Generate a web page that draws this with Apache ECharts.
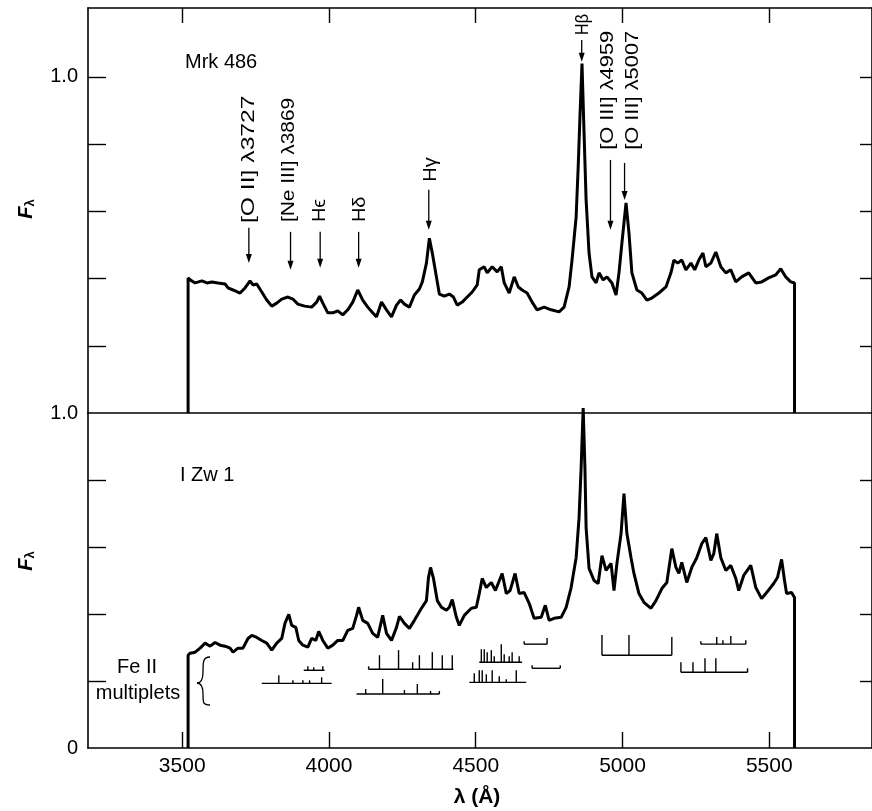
<!DOCTYPE html>
<html><head><meta charset="utf-8">
<script src="https://cdn.jsdelivr.net/npm/echarts@6/dist/echarts.min.js"></script>
<style>html,body{margin:0;padding:0;background:#fff}#c{width:872px;height:811px}</style>
</head><body><div id="c"></div><script>
// ---- data ----
const xTicks = [3500, 4000, 4500, 5000, 5500];
const topYTicks = [0.2, 0.4, 0.6, 0.8, 1.0];
const bottomYTicks = [0.2, 0.4, 0.6, 0.8];

// Mrk 486 spectrum [wavelength (Å), F_lambda]
const topSpectrum = [
[3520,0],[3520,0.402],[3527,0.396],[3544,0.387],[3567,0.393],[3584,0.387],[3601,0.390],[3622,0.387],[3646,0.384],[3656,0.372],[3673,0.366],[3697,0.357],[3714,0.372],[3731,0.393],[3741,0.381],[3754,0.384],[3771,0.360],[3788,0.336],[3805,0.318],[3822,0.327],[3839,0.339],[3860,0.345],[3877,0.339],[3894,0.324],[3917,0.318],[3941,0.315],[3958,0.330],[3968,0.348],[3979,0.327],[3996,0.298],[4013,0.298],[4030,0.304],[4047,0.292],[4064,0.307],[4081,0.330],[4098,0.366],[4115,0.336],[4132,0.315],[4149,0.298],[4162,0.286],[4179,0.330],[4196,0.307],[4213,0.286],[4230,0.321],[4244,0.336],[4257,0.324],[4274,0.315],[4291,0.351],[4308,0.369],[4318,0.390],[4332,0.446],[4342,0.520],[4352,0.476],[4366,0.405],[4376,0.354],[4393,0.348],[4410,0.354],[4424,0.345],[4437,0.321],[4454,0.330],[4471,0.345],[4488,0.360],[4505,0.381],[4512,0.426],[4529,0.435],[4539,0.417],[4556,0.435],[4573,0.420],[4587,0.435],[4597,0.387],[4614,0.357],[4631,0.405],[4645,0.375],[4658,0.366],[4675,0.357],[4692,0.330],[4709,0.307],[4733,0.315],[4757,0.307],[4784,0.301],[4801,0.315],[4818,0.375],[4828,0.455],[4842,0.583],[4849,0.732],[4855,0.881],[4862,1.040],[4869,0.833],[4876,0.634],[4886,0.476],[4896,0.405],[4910,0.387],[4920,0.417],[4934,0.396],[4947,0.405],[4964,0.387],[4978,0.351],[4988,0.417],[4998,0.506],[5012,0.625],[5022,0.536],[5032,0.417],[5049,0.366],[5066,0.357],[5083,0.336],[5100,0.342],[5124,0.357],[5148,0.375],[5165,0.417],[5175,0.455],[5188,0.446],[5202,0.455],[5216,0.426],[5233,0.446],[5246,0.426],[5260,0.455],[5274,0.476],[5284,0.435],[5301,0.446],[5318,0.479],[5335,0.435],[5352,0.417],[5369,0.426],[5386,0.390],[5406,0.405],[5430,0.417],[5454,0.387],[5474,0.390],[5498,0.402],[5522,0.411],[5539,0.429],[5556,0.405],[5573,0.390],[5586,0.387],[5586,0]
];

// I Zw 1 spectrum [wavelength (Å), F_lambda]
const bottomSpectrum = [
[3520,0],[3520,0.277],[3527,0.283],[3544,0.286],[3561,0.298],[3578,0.313],[3595,0.304],[3612,0.315],[3629,0.307],[3646,0.304],[3663,0.298],[3673,0.286],[3690,0.298],[3707,0.298],[3724,0.327],[3737,0.336],[3754,0.330],[3771,0.321],[3788,0.313],[3805,0.292],[3822,0.313],[3839,0.327],[3850,0.372],[3863,0.399],[3873,0.366],[3887,0.360],[3897,0.321],[3911,0.307],[3928,0.301],[3941,0.327],[3955,0.321],[3965,0.348],[3979,0.321],[3996,0.298],[4013,0.307],[4030,0.321],[4047,0.321],[4064,0.351],[4081,0.357],[4094,0.396],[4101,0.420],[4115,0.381],[4132,0.372],[4149,0.342],[4166,0.330],[4183,0.396],[4196,0.342],[4213,0.321],[4230,0.360],[4240,0.393],[4257,0.372],[4274,0.357],[4291,0.381],[4315,0.417],[4332,0.440],[4339,0.509],[4346,0.539],[4356,0.506],[4369,0.440],[4383,0.420],[4400,0.411],[4410,0.420],[4420,0.443],[4434,0.390],[4444,0.366],[4461,0.396],[4485,0.417],[4502,0.420],[4512,0.461],[4522,0.506],[4536,0.479],[4553,0.494],[4567,0.470],[4590,0.521],[4604,0.461],[4617,0.470],[4634,0.521],[4648,0.461],[4665,0.464],[4682,0.432],[4699,0.387],[4723,0.390],[4737,0.426],[4750,0.381],[4767,0.387],[4791,0.390],[4808,0.420],[4825,0.479],[4842,0.568],[4852,0.688],[4859,0.836],[4866,1.015],[4872,0.836],[4876,0.658],[4886,0.536],[4903,0.500],[4917,0.491],[4930,0.574],[4944,0.530],[4961,0.551],[4971,0.470],[4981,0.551],[4995,0.640],[5005,0.759],[5015,0.640],[5029,0.568],[5039,0.521],[5056,0.461],[5073,0.435],[5097,0.417],[5114,0.440],[5134,0.476],[5151,0.494],[5168,0.595],[5182,0.539],[5192,0.521],[5202,0.554],[5219,0.494],[5236,0.539],[5253,0.568],[5270,0.610],[5284,0.628],[5301,0.560],[5311,0.580],[5321,0.640],[5335,0.568],[5352,0.530],[5369,0.545],[5386,0.506],[5396,0.470],[5413,0.515],[5437,0.545],[5454,0.479],[5474,0.446],[5491,0.464],[5515,0.491],[5528,0.509],[5542,0.563],[5552,0.500],[5559,0.461],[5576,0.464],[5586,0.449],[5586,0]
];

// emission-line identifications in the top panel
const lineNames  = ['[O II] λ3727', '[Ne III] λ3869', 'Hϵ', 'Hδ', 'Hγ', 'Hβ', '[O III] λ4959', '[O III] λ5007'];
const lineWave   = [3727, 3869, 3970, 4101, 4340, 4861, 4959, 5007];
const arrowFrom  = [0.551, 0.539, 0.539, 0.539, 0.664, 1.110, 0.753, 0.744];
const arrowTo    = [0.446, 0.426, 0.432, 0.432, 0.545, 1.045, 0.545, 0.634];
const labelStart = [0.565, 0.568, 0.568, 0.568, 0.688, 1.125, 0.783, 0.783];

// Fe II multiplet markers in the bottom panel
const feiiBase = [0.193, 0.232, 0.235, 0.161, 0.256, 0.196, 0.310, 0.238, 0.277, 0.310, 0.226];
const feiiFrom = [3771, 3914, 4135, 4094, 4512, 4478, 4665, 4692, 4930, 5267, 5199];
const feiiTo   = [4009, 3985, 4424, 4376, 4658, 4672, 4743, 4788, 5168, 5420, 5426];
const feiiLines = [
  [[3829,0.024],[3877,0.009],[3911,0.009],[3934,0.009],[3975,0.018]],
  [[3928,0.012],[3948,0.009],[3979,0.012]],
  [[4135,0.009],[4172,0.042],[4237,0.057],[4285,0.021],[4308,0.042],[4352,0.051],[4386,0.042],[4420,0.042]],
  [[4125,0.015],[4183,0.045],[4257,0.012],[4301,0.030],[4346,0.009],[4376,0.009]],
  [[4519,0.039],[4529,0.039],[4539,0.030],[4553,0.036],[4563,0.018],[4587,0.054],[4597,0.024],[4614,0.018],[4624,0.030],[4648,0.018]],
  [[4495,0.027],[4512,0.036],[4522,0.036],[4536,0.024],[4556,0.036],[4580,0.018],[4604,0.009],[4638,0.036]],
  [[4665,0.009],[4743,0.018]],
  [[4692,0.009],[4788,0.009]],
  [[4930,0.060],[5022,0.060],[5168,0.054]],
  [[5267,0.009],[5321,0.021],[5342,0.012],[5369,0.024],[5420,0.012]],
  [[5199,0.030],[5240,0.030],[5281,0.042],[5318,0.042],[5426,0.012]]
];

// ---- styling (not data) ----
const FONT = '"Liberation Sans", Arial, Helvetica, sans-serif';
const XMIN = 3179, XMAX = 5850;
const labelNudge   = [0, -2, 0, 1, 2, 1, -3, 8];        // px sideways offset of rotated labels
const labelStretch = [1.30, 1.10, 1.05, 1.05, 1.05, 0.85, 1.15, 1.15]; // typographic stretch
const axisLineStyle = {color: '#000', width: 1.6};
const chart = echarts.init(document.getElementById('c'), null, {renderer: 'canvas'});

function yAx(grid, max, pos, ticks, labels) {
  return {
    type: 'value', gridIndex: grid, min: 0, max: max, position: pos,
    axisLine: {show: true, onZero: false, lineStyle: axisLineStyle},
    axisTick: {show: true, inside: true, length: pos === 'left' ? 18 : 12, customValues: ticks, lineStyle: {color: '#000', width: 1.4}},
    axisLabel: labels ? {show: true, customValues: labels, margin: 10, color: '#000', fontSize: 20, fontFamily: FONT,
      formatter: v => (v === 0 ? '0' : v.toFixed(1))} : {show: false},
    splitLine: {show: false}
  };
}

const braceStyle = {stroke: '#000', lineWidth: 1.3, fill: null};
function fTitle(y) {
  return {type: 'text', x: 26, y: y, rotation: Math.PI / 2,
    style: {text: '{f|F}{s|λ}', align: 'center', verticalAlign: 'middle',
      rich: {f: {fontSize: 20, fontStyle: 'italic', fontWeight: 'bold', fontFamily: FONT, fill: '#000'},
             s: {fontSize: 13, fontWeight: 'bold', fontFamily: FONT, fill: '#000', padding: [8, 0, 0, 0]}}}};
}

const option = {
  animation: false,
  backgroundColor: '#fff',
  grid: [
    {left: 88, top: 8, width: 786, height: 405},
    {left: 88, top: 413, width: 786, height: 335}
  ],
  xAxis: [
    {type: 'value', gridIndex: 0, min: XMIN, max: XMAX, position: 'bottom',
     axisLine: {show: true, onZero: false, lineStyle: axisLineStyle}, axisTick: {show: false}, axisLabel: {show: false}, splitLine: {show: false}},
    {type: 'value', gridIndex: 0, min: XMIN, max: XMAX, position: 'top',
     axisLine: {show: true, onZero: false, lineStyle: axisLineStyle},
     axisTick: {show: true, inside: true, length: 15, customValues: xTicks, lineStyle: {color: '#000', width: 1.4}},
     axisLabel: {show: false}, splitLine: {show: false}},
    {type: 'value', gridIndex: 1, min: XMIN, max: XMAX, position: 'bottom',
     axisLine: {show: true, onZero: false, lineStyle: axisLineStyle},
     axisTick: {show: true, inside: true, length: 16, customValues: xTicks, lineStyle: {color: '#000', width: 1.4}},
     axisLabel: {show: true, customValues: xTicks, margin: 8, color: '#000', fontSize: 21, fontFamily: FONT,
       formatter: v => String(v)},
     splitLine: {show: false}}
  ],
  yAxis: [
    yAx(0, 1.205, 'left', topYTicks, [1.0]),
    yAx(0, 1.205, 'right', topYTicks, null),
    yAx(1, 1.0, 'left', bottomYTicks, [0, 1.0]),
    yAx(1, 1.0, 'right', bottomYTicks, null)
  ],
  series: [
    {type: 'line', xAxisIndex: 0, yAxisIndex: 0, data: topSpectrum, showSymbol: false, silent: true,
     lineStyle: {color: '#000', width: 3}, clip: false},
    {type: 'line', xAxisIndex: 2, yAxisIndex: 2, data: bottomSpectrum, showSymbol: false, silent: true,
     lineStyle: {color: '#000', width: 3}, clip: false},
    {type: 'custom', xAxisIndex: 0, yAxisIndex: 0, silent: true, clip: false,
     data: lineWave.map((w, i) => [w, arrowTo[i]]),
     renderItem: function (params, api) {
       const i = params.dataIndex;
       const p1 = api.coord([lineWave[i], arrowFrom[i]]);
       const p2 = api.coord([lineWave[i], arrowTo[i]]);
       const pt = api.coord([lineWave[i], labelStart[i]]);
       return {type: 'group', children: [
         {type: 'line', shape: {x1: p1[0], y1: p1[1], x2: p2[0], y2: p2[1] - 5}, style: {stroke: '#000', lineWidth: 1.3}},
         {type: 'polygon', shape: {points: [[p2[0] - 3, p2[1] - 9], [p2[0] + 3, p2[1] - 9], [p2[0], p2[1]]]}, style: {fill: '#000'}},
         {type: 'text', x: pt[0] + labelNudge[i], y: pt[1], rotation: Math.PI / 2, scaleX: labelStretch[i],
          style: {text: lineNames[i], fontSize: 19, fontFamily: FONT, align: 'left', verticalAlign: 'middle', fill: '#000'}}
       ]};
     }},
    {type: 'custom', xAxisIndex: 2, yAxisIndex: 2, silent: true, clip: false,
     data: feiiBase.map((b, i) => [feiiFrom[i], b]),
     renderItem: function (params, api) {
       const i = params.dataIndex, b = feiiBase[i];
       const a = api.coord([feiiFrom[i], b]), e = api.coord([feiiTo[i], b]);
       const children = [{type: 'line', shape: {x1: a[0], y1: a[1], x2: e[0], y2: e[1]}, style: {stroke: '#000', lineWidth: 1.4}}];
       feiiLines[i].forEach(function (ln) {
         const p = api.coord([ln[0], b]), q = api.coord([ln[0], b + ln[1]]);
         children.push({type: 'line', shape: {x1: p[0], y1: p[1], x2: q[0], y2: q[1]}, style: {stroke: '#000', lineWidth: 1.4}});
       });
       return {type: 'group', children: children};
     }}
  ],
  graphic: [
    {type: 'text', x: 185, y: 62, style: {text: 'Mrk 486', fontSize: 20, fontFamily: FONT, fill: '#000', align: 'left', verticalAlign: 'middle'}},
    {type: 'text', x: 180, y: 475, style: {text: 'I Zw 1', fontSize: 20, fontFamily: FONT, fill: '#000', align: 'left', verticalAlign: 'middle'}},
    {type: 'text', x: 137, y: 667, style: {text: 'Fe II', fontSize: 20, fontFamily: FONT, fill: '#000', align: 'center', verticalAlign: 'middle'}},
    {type: 'text', x: 138, y: 693, style: {text: 'multiplets', fontSize: 20, fontFamily: FONT, fill: '#000', align: 'center', verticalAlign: 'middle'}},
    {type: 'bezierCurve', shape: {x1: 210, y1: 657, cpx1: 203, cpy1: 657, cpx2: 203, cpy2: 662, x2: 203, y2: 672}, style: braceStyle},
    {type: 'bezierCurve', shape: {x1: 203, y1: 672, cpx1: 203, cpy1: 680, cpx2: 201, cpy2: 683, x2: 197, y2: 683}, style: braceStyle},
    {type: 'bezierCurve', shape: {x1: 197, y1: 683, cpx1: 201, cpy1: 683, cpx2: 203, cpy2: 686, x2: 203, y2: 694}, style: braceStyle},
    {type: 'bezierCurve', shape: {x1: 203, y1: 694, cpx1: 203, cpy1: 703, cpx2: 203, cpy2: 705, x2: 210, y2: 705}, style: braceStyle},
    {type: 'text', x: 477, y: 797, style: {text: 'λ (Å)', fontSize: 21, fontWeight: 'bold', fontFamily: FONT, fill: '#000', align: 'center', verticalAlign: 'middle'}},
    fTitle(209),
    fTitle(561)
  ]
};
chart.setOption(option);
</script></body></html>
